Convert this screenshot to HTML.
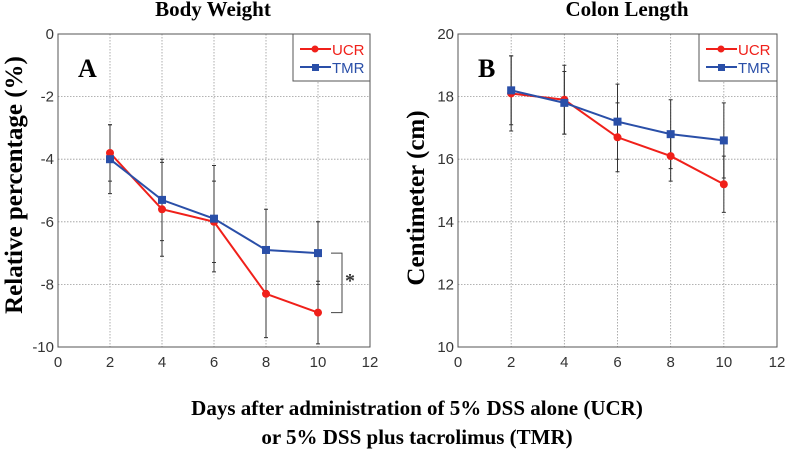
<!DOCTYPE html>
<html><head><meta charset="utf-8"><style>
html,body{margin:0;padding:0;background:#fff;}
svg{display:block;}
.tk{font-family:"Liberation Sans",sans-serif;font-size:15px;fill:#333;}
.ser{font-family:"Liberation Serif",serif;font-weight:bold;fill:#000;}
</style></head><body>
<svg id="chart" width="787" height="450" viewBox="0 0 787 450" xmlns="http://www.w3.org/2000/svg">
<text class="ser" x="213" y="16" font-size="21" text-anchor="middle">Body Weight</text>
<text class="ser" x="627" y="16" font-size="21" text-anchor="middle">Colon Length</text>
<text class="ser" transform="translate(22,185) rotate(-90)" font-size="25" text-anchor="middle">Relative percentage (%)</text>
<text class="ser" transform="translate(424,198) rotate(-90)" font-size="25" text-anchor="middle">Centimeter (cm)</text>
<text class="ser" x="417" y="415" font-size="21" text-anchor="middle">Days after administration of 5% DSS alone (UCR)</text>
<text class="ser" x="417" y="444" font-size="21" text-anchor="middle">or 5% DSS plus tacrolimus (TMR)</text>
<g id="pa"></g><g id="pb"></g>
</svg>
<script>
const days = [2, 4, 6, 8, 10];
const xTicks = [0, 2, 4, 6, 8, 10, 12];
const aYTicks = [0, -2, -4, -6, -8, -10];
const aUCR = [-3.8, -5.6, -6.0, -8.3, -8.9];
const aUCRErr = [0.9, 1.5, 1.3, 1.4, 1.0];
const aTMR = [-4.0, -5.3, -5.9, -6.9, -7.0];
const aTMRErr = [1.1, 1.3, 1.7, 1.3, 1.0];
const bYTicks = [20, 18, 16, 14, 12, 10];
const bUCR = [18.1, 17.9, 16.7, 16.1, 15.2];
const bUCRErr = [1.2, 1.1, 1.1, 0.8, 0.9];
const bTMR = [18.2, 17.8, 17.2, 16.8, 16.6];
const bTMRErr = [1.1, 1.0, 1.2, 1.1, 1.2];

const NS = "http://www.w3.org/2000/svg";
function mk(parent, tag, attrs) {
  const e = document.createElementNS(NS, tag);
  for (const k in attrs) e.setAttribute(k, attrs[k]);
  parent.appendChild(e);
  return e;
}
function panel(g, L, R, T, B, yMin, yMax, yTicks, ucr, ucrE, tmr, tmrE, letter, legL) {
  const xs = v => L + (v - 0) / 12 * (R - L);
  const ys = v => B - (v - yMin) / (yMax - yMin) * (B - T);
  xTicks.forEach(t => {
    if (t > 0 && t < 12) {
      const l = mk(g, 'line', {x1: xs(t), x2: xs(t), y1: T, y2: B, stroke: '#999', 'stroke-width': 0.8, 'stroke-dasharray': '1.5,1.5'});
      
      
    }
    const tx = mk(g, 'text', {x: xs(t), y: B + 20, class: 'tk', 'text-anchor': 'middle'});
    tx.textContent = t;
    
    
  });
  yTicks.forEach(t => {
    if (t > yMin && t < yMax) {
      const l = mk(g, 'line', {x1: L, x2: R, y1: ys(t), y2: ys(t), stroke: '#999', 'stroke-width': 0.8, 'stroke-dasharray': '1.5,1.5'});
      
      
    }
    const tx = mk(g, 'text', {x: L - 4, y: ys(t) + 5, class: 'tk', 'text-anchor': 'end'});
    tx.textContent = t;
    
    
  });
  const fr = mk(g, 'rect', {x: L, y: T, width: R - L, height: B - T, fill: 'none', stroke: '#555', 'stroke-width': 1});
  
  
  // error bars
  [[ucr, ucrE], [tmr, tmrE]].forEach(([v, e]) => {
    days.forEach((d, i) => {
      const x = xs(d), y1 = ys(v[i] + e[i]), y2 = ys(v[i] - e[i]);
      const eb = mk(g, 'path', {d: `M${x},${y1}V${y2}M${x-2},${y1}H${x+2}M${x-2},${y2}H${x+2}`, stroke: '#333', 'stroke-width': 1, fill: 'none'});
      
      
    });
  });
  const line = (v, col, name) => {
    const p = mk(g, 'polyline', {points: days.map((d, i) => xs(d) + ',' + ys(v[i])).join(' '), fill: 'none', stroke: col, 'stroke-width': 2});
    
    
  };
  line(ucr, '#f0201a', 'ucr');
  line(tmr, '#2a4fa8', 'tmr');
  days.forEach((d, i) => {
    const c = mk(g, 'circle', {cx: xs(d), cy: ys(ucr[i]), r: 4, fill: '#f0201a'});
    
    
    const s = mk(g, 'rect', {x: xs(d) - 4, y: ys(tmr[i]) - 4, width: 8, height: 8, fill: '#2a4fa8'});
    
    
  });
  const lt = mk(g, 'text', {x: L + 20, y: T + 43, class: 'ser', 'font-size': 26});
  lt.textContent = letter;
  
  
  // legend
  const lg = mk(g, 'g', {});
  
  
  mk(lg, 'rect', {x: legL, y: T, width: R - legL, height: 47, fill: '#fff', stroke: '#555', 'stroke-width': 1});
  mk(lg, 'line', {x1: legL + 7, x2: legL + 38, y1: T + 15, y2: T + 15, stroke: '#f0201a', 'stroke-width': 2});
  mk(lg, 'circle', {cx: legL + 22, cy: T + 15, r: 3.5, fill: '#f0201a'});
  const t1 = mk(lg, 'text', {x: legL + 39, y: T + 21, class: 'tk', style: 'fill:#f0201a'});
  t1.textContent = 'UCR';
  
  
  mk(lg, 'line', {x1: legL + 7, x2: legL + 38, y1: T + 33, y2: T + 33, stroke: '#2a4fa8', 'stroke-width': 2});
  mk(lg, 'rect', {x: legL + 19, y: T + 30, width: 7, height: 7, fill: '#2a4fa8'});
  const t2 = mk(lg, 'text', {x: legL + 39, y: T + 39, class: 'tk', style: 'fill:#2a4fa8'});
  t2.textContent = 'TMR';
  
  
  return {xs, ys};
}
const A = panel(document.getElementById('pa'), 58, 370, 34, 347, -10, 0, aYTicks, aUCR, aUCRErr, aTMR, aTMRErr, 'A', 293);
panel(document.getElementById('pb'), 458, 777, 34, 347, 10, 20, bYTicks, bUCR, bUCRErr, bTMR, bTMRErr, 'B', 699);
// significance bracket
const ga = document.getElementById('pa');
const yA = A.ys(aTMR[4]), yB = A.ys(aUCR[4]);
const br = mk(ga, 'path', {d: `M331,${yA}H342V${yB}H331`, stroke: '#444', fill: 'none', 'stroke-width': 1});


const st = mk(ga, 'text', {x: 350, y: (yA + yB) / 2 + 4, class: 'ser', 'font-size': 20, 'text-anchor': 'middle', style: 'fill:#333'});
st.textContent = '*';


</script>
</body></html>
